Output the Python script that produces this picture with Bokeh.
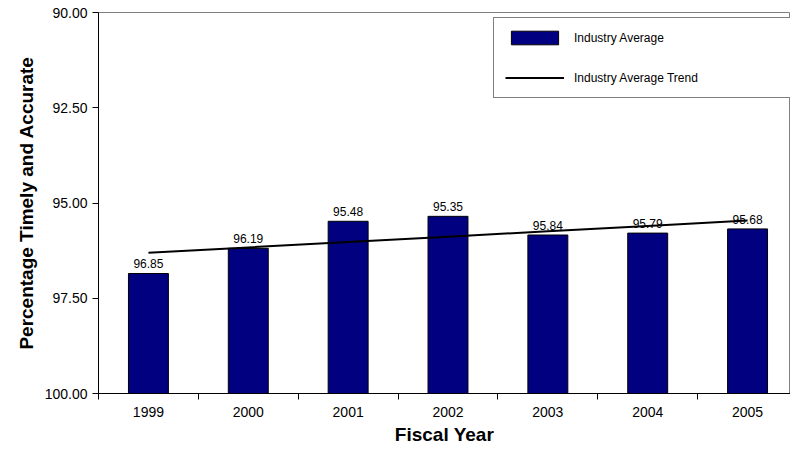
from bokeh.plotting import figure
from bokeh.models import Range1d, FixedTicker, NumeralTickFormatter, ColumnDataSource, Legend, LegendItem
from bokeh.core.properties import value
from bokeh.embed import file_html
from bokeh.resources import INLINE
import numpy as np

years = ["1999", "2000", "2001", "2002", "2003", "2004", "2005"]
industry_average = [96.85, 96.19, 95.48, 95.35, 95.84, 95.79, 95.68]
y_ticks = [90.0, 92.5, 95.0, 97.5, 100.0]
y_min, y_max = 90.0, 100.0

xs = list(range(1, len(years) + 1))
labels = ["%.2f" % v for v in industry_average]
coef = np.polyfit(xs, industry_average, 1)
trend = [float(coef[0] * x + coef[1]) for x in xs]

src = ColumnDataSource(dict(x=xs, top=industry_average, label=labels, bottom=[y_max] * len(xs)))

p = figure(width=790, height=448, output_backend="svg", toolbar_location=None,
           x_range=Range1d(0.5, 7.43), y_range=Range1d(y_max, y_min),
           min_border_left=98, min_border_top=12, min_border_right=0, min_border_bottom=55)
p.background_fill_color = "white"
p.border_fill_color = "white"
p.outline_line_color = "#808080"
p.outline_line_width = 1
p.xgrid.visible = False
p.ygrid.visible = False

bars = p.vbar(x="x", top="top", bottom="bottom", width=0.4, source=src,
              fill_color="#000080", line_color="#000000", line_width=1)
tl = p.line(xs, trend, line_color="black", line_width=2)
p.text(x="x", y="top", text="label", source=src, text_align="center", text_baseline="bottom",
       y_offset=-5, text_font_size="12px", text_color="black", text_font=value("Liberation Sans"))

# x axis
p.xaxis.ticker = FixedTicker(ticks=xs, minor_ticks=[x - 0.5 for x in xs] + [len(xs) + 0.5])
p.xaxis.major_label_overrides = {x: y for x, y in zip(xs, years)}
p.xaxis.major_tick_line_color = None
p.xaxis.minor_tick_out = 6
p.xaxis.minor_tick_in = 0
p.xaxis.minor_tick_line_color = "black"
p.xaxis.axis_line_color = "black"
p.xaxis.major_label_standoff = 7
p.xaxis.major_label_text_font = "Liberation Sans"
p.xaxis.major_label_text_font_size = "14px"
p.xaxis.major_label_text_color = "black"
p.xaxis.axis_label = "Fiscal Year"
p.xaxis.axis_label_text_font = "Liberation Sans"
p.xaxis.axis_label_text_font_style = "bold"
p.xaxis.axis_label_text_font_size = "19px"
p.xaxis.axis_label_text_color = "black"
p.xaxis.axis_label_standoff = 4

# y axis
p.yaxis.ticker = FixedTicker(ticks=y_ticks, minor_ticks=[])
p.yaxis.formatter = NumeralTickFormatter(format="0.00")
p.yaxis.major_tick_out = 6
p.yaxis.major_tick_in = 0
p.yaxis.major_tick_line_color = "black"
p.yaxis.axis_line_color = "black"
p.yaxis.major_label_standoff = 5
p.yaxis.major_label_text_font = "Liberation Sans"
p.yaxis.major_label_text_font_size = "14px"
p.yaxis.major_label_text_color = "black"
p.yaxis.axis_label = "Percentage Timely and Accurate"
p.yaxis.axis_label_text_font = "Liberation Sans"
p.yaxis.axis_label_text_font_style = "bold"
p.yaxis.axis_label_text_font_size = "19px"
p.yaxis.axis_label_text_color = "black"
p.yaxis.axis_label_standoff = 5

legend = Legend(items=[LegendItem(label="Industry Average", renderers=[bars]),
                       LegendItem(label="Industry Average Trend", renderers=[tl])],
                location=(395, 295), margin=0, padding=11, spacing=23,
                glyph_width=59, glyph_height=17, label_width=205, label_height=17,
                label_standoff=10, label_text_font="Liberation Sans", label_text_font_size="12px",
                label_text_color="black", border_line_color="black", border_line_width=1,
                background_fill_color="white", background_fill_alpha=1.0)
p.add_layout(legend, "center")

open("out.html", "w").write(file_html(p, INLINE))
